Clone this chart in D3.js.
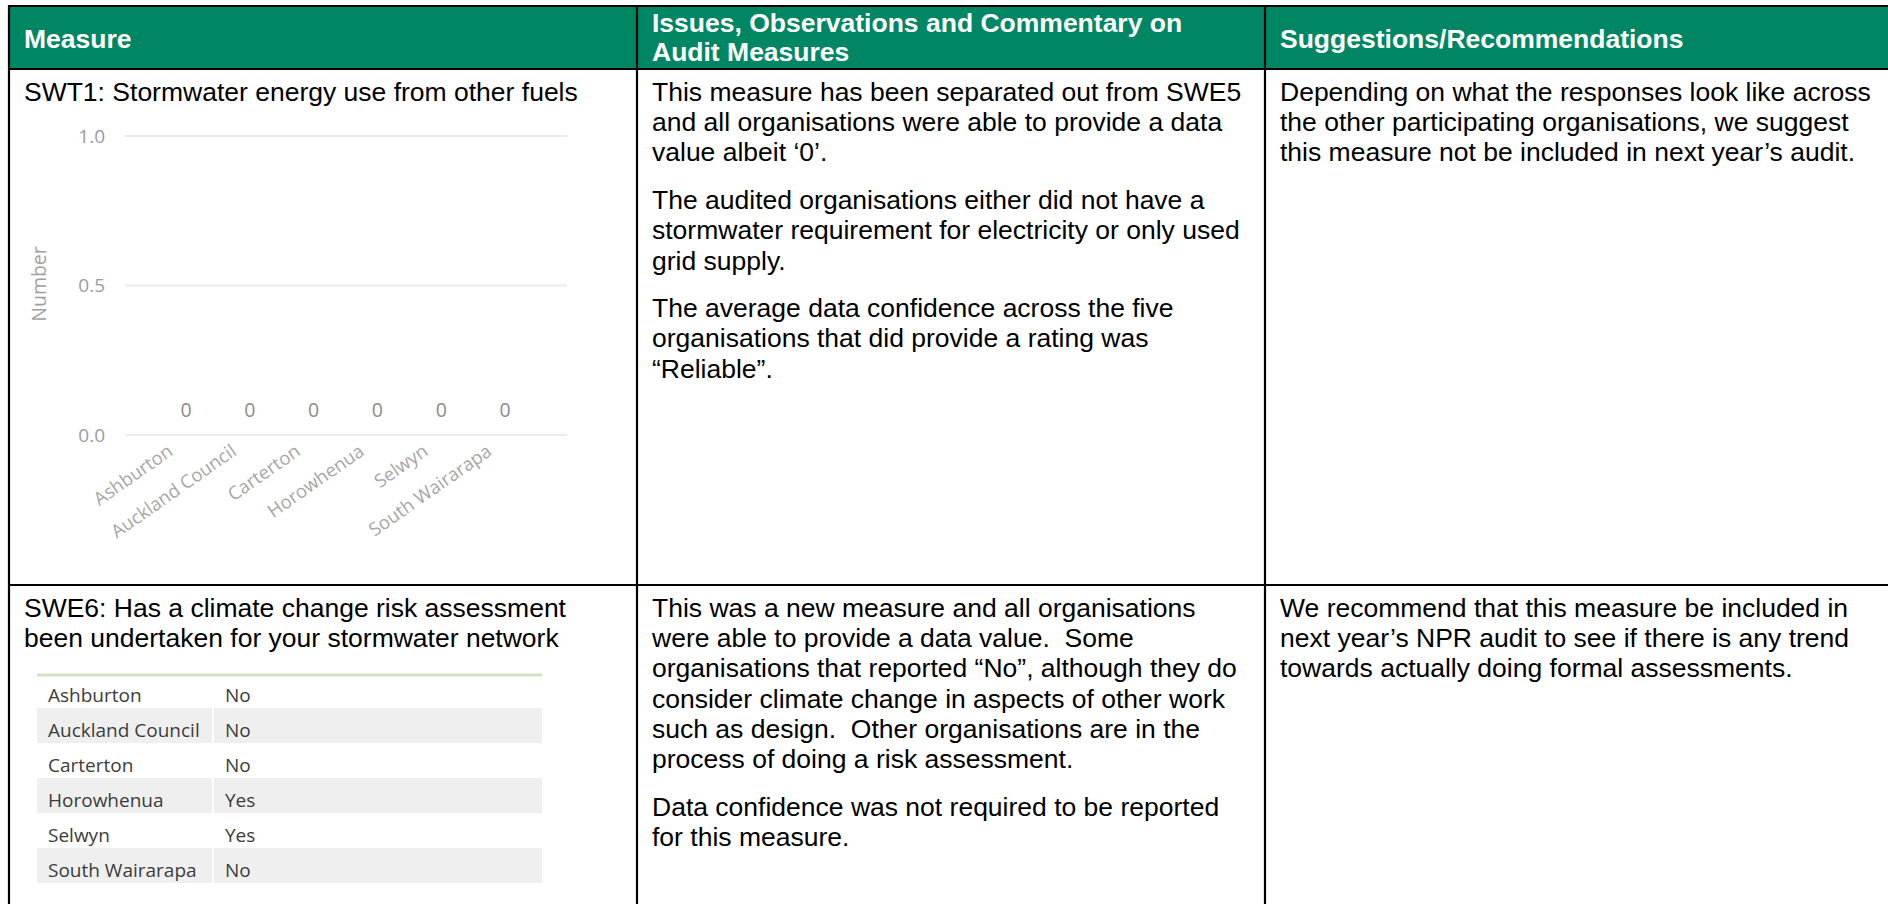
<!DOCTYPE html>
<html>
<head>
<meta charset="utf-8">
<script src="https://cdn.jsdelivr.net/npm/d3@7"></script>
<style>
  html, body { margin: 0; padding: 0; background: #ffffff; }
  svg { display: block; }
  text { white-space: pre; }
</style>
</head>
<body>
<div id="chart"></div>
<script>
// ---------------- DATA ----------------
const categories = ["Ashburton", "Auckland Council", "Carterton", "Horowhenua", "Selwyn", "South Wairarapa"];
const swt1Values = [0, 0, 0, 0, 0, 0];
const yTicks = [0, 0.5, 1.0];
const yAxisTitle = "Number";
const swe6Values = ["No", "No", "No", "Yes", "Yes", "No"];

const headerMeasure = ["Measure"];
const headerIssues = ["Issues, Observations and Commentary on", "Audit Measures"];
const headerSuggest = ["Suggestions/Recommendations"];

const row1Measure = [["SWT1: Stormwater energy use from other fuels"]];
const row1Issues = [
  ["This measure has been separated out from SWE5", "and all organisations were able to provide a data", "value albeit \u20180\u2019."],
  ["The audited organisations either did not have a", "stormwater requirement for electricity or only used", "grid supply."],
  ["The average data confidence across the five", "organisations that did provide a rating was", "\u201cReliable\u201d."]
];
const row1Suggest = [["Depending on what the responses look like across", "the other participating organisations, we suggest", "this measure not be included in next year\u2019s audit."]];

const row2Measure = [["SWE6: Has a climate change risk assessment", "been undertaken for your stormwater network"]];
const row2Issues = [
  ["This was a new measure and all organisations", "were able to provide a data value.  Some", "organisations that reported \u201cNo\u201d, although they do", "consider climate change in aspects of other work", "such as design.  Other organisations are in the", "process of doing a risk assessment."],
  ["Data confidence was not required to be reported", "for this measure."]
];
const row2Suggest = [["We recommend that this measure be included in", "next year\u2019s NPR audit to see if there is any trend", "towards actually doing formal assessments."]];

// ---------------- LAYOUT ----------------
const W = 1888, H = 904;
const GREEN = "#008663";
const BODY_FONT = "'Liberation Sans', Arial, sans-serif";
const PBI_FONT = "'Open Sans', 'Noto Sans', sans-serif";
const FS = 26.5, LINE = 30.2, PARA = 17.5;

const colX = [9, 637, 1265];
const textX = [24, 652, 1280];
const topY = 6, headBottom = 69, rowDiv = 585;

const svg = d3.select("#chart").append("svg").attr("width", W).attr("height", H);

// header fill
svg.append("rect").attr("x", colX[0]).attr("y", topY).attr("width", W - colX[0]).attr("height", headBottom - topY).attr("fill", GREEN);

function writeBlock(x, y0, paragraphs, opts = {}) {
  const g = svg.append("text")
    .attr("x", x).attr("y", y0)
    .attr("font-family", BODY_FONT)
    .attr("font-size", FS)
    .attr("font-weight", opts.bold ? "bold" : "normal")
    .attr("fill", opts.fill || "#000");
  const step = opts.line || LINE;
  let y = y0;
  paragraphs.forEach((lines, pi) => {
    if (pi > 0) y += PARA;
    lines.forEach((ln) => {
      g.append("tspan").attr("x", x).attr("y", y).text(ln);
      y += step;
    });
  });
}

// header texts
writeBlock(textX[0], 48, [headerMeasure], { bold: true, fill: "#fff" });
writeBlock(textX[1], 32, [headerIssues], { bold: true, fill: "#fff", line: 29 });
writeBlock(textX[2], 48, [headerSuggest], { bold: true, fill: "#fff" });

// row 1
writeBlock(textX[0], 101, row1Measure);
writeBlock(textX[1], 101, row1Issues);
writeBlock(textX[2], 101, row1Suggest);

// row 2
writeBlock(textX[0], 617, row2Measure);
writeBlock(textX[1], 617, row2Issues);
writeBlock(textX[2], 617, row2Suggest);

// borders
const border = svg.append("g").attr("stroke", "#000").attr("stroke-width", 2.2);
border.append("line").attr("x1", colX[0]).attr("x2", W).attr("y1", topY).attr("y2", topY);
border.append("line").attr("x1", colX[0]).attr("x2", W).attr("y1", headBottom).attr("y2", headBottom);
border.append("line").attr("x1", colX[0]).attr("x2", W).attr("y1", rowDiv).attr("y2", rowDiv);
colX.forEach(x => border.append("line").attr("x1", x).attr("x2", x).attr("y1", topY - 1).attr("y2", H));

// ---------------- SWT1 COLUMN CHART ----------------
const y = d3.scaleLinear().domain([0, 1]).range([435, 136]);
const x = d3.scaleBand().domain(categories).range([144.5, 546.5]).padding(0.3);
const gridX1 = 125, gridX2 = 567;

const chart = svg.append("g");
chart.selectAll("line.grid").data(yTicks).enter().append("line")
  .attr("class", "grid")
  .attr("x1", gridX1).attr("x2", gridX2)
  .attr("y1", d => y(d)).attr("y2", d => y(d))
  .attr("stroke", "#ebebeb").attr("stroke-width", 2);

const yAxis = chart.append("g").attr("transform", `translate(${gridX1},0)`)
  .call(d3.axisLeft(y).tickValues(yTicks).tickFormat(d3.format(".1f")).tickSize(0).tickPadding(20));
yAxis.select(".domain").remove();
yAxis.selectAll("text").attr("font-family", PBI_FONT).attr("font-size", 19).attr("fill", "#9a9aa6");

chart.append("text")
  .attr("transform", `translate(46,284) rotate(-90)`)
  .attr("text-anchor", "middle")
  .attr("font-family", PBI_FONT).attr("font-size", 19.5).attr("fill", "#a0a0a0")
  .text(yAxisTitle);

// bars (zero height) + data labels
chart.selectAll("rect.bar").data(swt1Values).enter().append("rect")
  .attr("class", "bar")
  .attr("x", (d, i) => x(categories[i]))
  .attr("width", x.bandwidth())
  .attr("y", d => y(d))
  .attr("height", d => y(0) - y(d))
  .attr("fill", "#118DFF");

chart.selectAll("text.dl").data(swt1Values).enter().append("text")
  .attr("class", "dl")
  .attr("x", (d, i) => x(categories[i]) + x.bandwidth() / 2)
  .attr("y", d => y(d) - 18)
  .attr("text-anchor", "middle")
  .attr("font-family", PBI_FONT).attr("font-size", 19.5).attr("fill", "#8c8c8c")
  .text(d => d3.format("d")(d));

const xAxis = chart.append("g").attr("transform", `translate(0,${y(0)})`)
  .call(d3.axisBottom(x).tickSize(0));
xAxis.select(".domain").remove();
xAxis.selectAll("text")
  .attr("x", 0).attr("y", 0).attr("dy", 0)
  .attr("transform", "translate(-12,19) rotate(-35)")
  .style("text-anchor", "end")
  .attr("font-family", PBI_FONT).attr("font-size", 18.5).attr("fill", "#a6a6a6");

// ---------------- SWE6 TABLE ----------------
const tblX1 = 37, tblX2 = 542, tblSplit = 213;
const ry = d3.scaleBand().domain(categories).range([673, 883]);
const tbl = svg.append("g");
tbl.selectAll("g.stripe").data(categories.filter((c, i) => i % 2 === 1)).enter().append("g")
  .attr("class", "stripe")
  .each(function (c) {
    const g = d3.select(this);
    g.append("rect").attr("x", tblX1).attr("y", ry(c)).attr("width", tblSplit - tblX1 - 1).attr("height", ry.bandwidth()).attr("fill", "#efefef");
    g.append("rect").attr("x", tblSplit + 1).attr("y", ry(c)).attr("width", tblX2 - tblSplit - 1).attr("height", ry.bandwidth()).attr("fill", "#efefef");
  });
tbl.append("line").attr("x1", tblX1).attr("x2", tblX2).attr("y1", 675).attr("y2", 675)
  .attr("stroke", "#cfe4bf").attr("stroke-width", 3);

tbl.selectAll("text.cat").data(categories).enter().append("text")
  .attr("class", "cat")
  .attr("x", 48).attr("y", c => ry(c) + 29)
  .attr("font-family", PBI_FONT).attr("font-size", 19).attr("fill", "#3c3c3c")
  .text(c => c);
tbl.selectAll("text.val").data(swe6Values).enter().append("text")
  .attr("class", "val")
  .attr("x", 225).attr("y", (v, i) => ry(categories[i]) + 29)
  .attr("font-family", PBI_FONT).attr("font-size", 19).attr("fill", "#3c3c3c")
  .text(v => v);
</script>
</body>
</html>
